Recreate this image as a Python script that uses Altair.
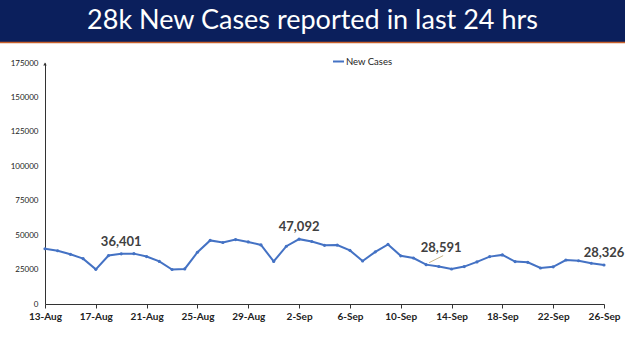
import altair as alt
import pandas as pd

dates = ["13-Aug","14-Aug","15-Aug","16-Aug","17-Aug","18-Aug","19-Aug","20-Aug","21-Aug","22-Aug",
         "23-Aug","24-Aug","25-Aug","26-Aug","27-Aug","28-Aug","29-Aug","30-Aug","31-Aug","1-Sep",
         "2-Sep","3-Sep","4-Sep","5-Sep","6-Sep","7-Sep","8-Sep","9-Sep","10-Sep","11-Sep",
         "12-Sep","13-Sep","14-Sep","15-Sep","16-Sep","17-Sep","18-Sep","19-Sep","20-Sep","21-Sep",
         "22-Sep","23-Sep","24-Sep","25-Sep","26-Sep"]
new_cases = [40120, 38667, 36083, 32937, 25166, 35178, 36401, 36571, 34457, 30948,
             25072, 25467, 37593, 46164, 44658, 46759, 45083, 42909, 30941, 41965,
             47092, 45352, 42618, 42766, 38948, 31222, 37875, 43263, 34973, 33376,
             28591, 27254, 25404, 27176, 30570, 34403, 35662, 30773, 30256, 26115,
             26964, 31923, 31382, 29616, 28326]
tick_dates = ["13-Aug","17-Aug","21-Aug","25-Aug","29-Aug","2-Sep","6-Sep","10-Sep","14-Sep","18-Sep","22-Sep","26-Sep"]
y_ticks = [0, 25000, 50000, 75000, 100000, 125000, 150000, 175000]
label_dates = ["19-Aug", "2-Sep", "26-Sep"]
leader_date = "12-Sep"
title_text = "28k New Cases reported in last 24 hrs"

df = pd.DataFrame({"date": dates, "cases": new_cases, "series": "New Cases"})
df["label"] = [f"{v:,}" for v in new_cases]

W, H = 559, 241
BLUE = "#4472C4"

x_axis = alt.Axis(values=tick_dates, labelAngle=0, title=None, labelOverlap=False,
                  labelFont="Lato", labelFontSize=10, labelFontWeight="bold",
                  labelColor="#222", domainColor="#333", tickColor="#333",
                  tickSize=4, labelPadding=3, grid=False)
y_axis = alt.Axis(values=y_ticks, format="d", title=None, grid=False, labelOverlap=False,
                  tickCount=8, labelFont="Lato", labelFontSize=8, labelColor="#222",
                  domainColor="#333", ticks=False, labelPadding=7)
x_scale = alt.Scale(type="point", padding=0, domain=dates)
y_scale = alt.Scale(domain=[0, 175000], nice=False)

def X():
    return alt.X("date:O", sort=dates, scale=x_scale, axis=x_axis)

def Y():
    return alt.Y("cases:Q", scale=y_scale, axis=y_axis)

base = alt.Chart(df)

line = base.mark_line(strokeWidth=2, point=alt.OverlayMarkDef(size=10, filled=True, color=BLUE)).encode(
    x=X(), y=Y(),
    color=alt.Color("series:N", scale=alt.Scale(range=[BLUE]),
                    legend=alt.Legend(title=None, orient="none", legendX=287, legendY=-8,
                                      symbolType="stroke", symbolStrokeWidth=2, symbolSize=120,
                                      labelFont="Lato", labelFontSize=9.5, labelColor="#222",
                                      labelOffset=1))
)

labels = base.transform_filter(
    alt.FieldOneOfPredicate(field="date", oneOf=label_dates)
).mark_text(font="Lato", fontSize=13, fontWeight="bold", color="#404040", dy=-12, baseline="middle").encode(
    x=X(), y=Y(), text="label:N")

leader_label = base.transform_filter(
    alt.FieldEqualPredicate(field="date", equal=leader_date)
).mark_text(font="Lato", fontSize=13, fontWeight="bold", color="#404040", dx=15, dy=-17, baseline="middle").encode(
    x=X(), y=Y(), text="label:N")

leader_line = base.transform_filter(
    alt.FieldEqualPredicate(field="date", equal=leader_date)
).mark_rule(color="#c8b68a", strokeWidth=1, xOffset=3, yOffset=-2, x2Offset=17, y2Offset=-9).encode(
    x=X(), y=Y(), x2="date:O", y2="cases:Q")

one = pd.DataFrame({"t": [title_text]})
banner = alt.Chart(one).mark_rect(color="#0b1f5c").encode(
    x=alt.value(-45), x2=alt.value(W + 21), y=alt.value(-63), y2=alt.value(-21))
orange = alt.Chart(one).mark_rule(color="#c8602a", strokeWidth=1.5).encode(
    x=alt.value(-45), x2=alt.value(W + 21), y=alt.value(-20.5))
title = alt.Chart(one).mark_text(
    font="Lato", fontSize=27, color="white", baseline="middle", align="center").encode(
    x=alt.value(312.5 - 45), y=alt.value(-42), text="t:N")
arrow = alt.Chart(one).mark_point(
    shape="triangle-up", filled=True, size=12, color="#333", opacity=1).encode(
    x=alt.value(0), y=alt.value(1))

chart = alt.layer(line, labels, leader_line, leader_label, banner, orange, title, arrow).properties(
    width=W, height=H,
    autosize=alt.AutoSizeParams(type="none"),
    padding={"left": 45, "top": 63, "right": 21, "bottom": 47},
    view=alt.ViewBackground(strokeOpacity=0, strokeWidth=0),
).configure_view(strokeOpacity=0, strokeWidth=0).configure(background="white")

chart.save("out.html", embed_options={"renderer": "svg", "actions": False})
